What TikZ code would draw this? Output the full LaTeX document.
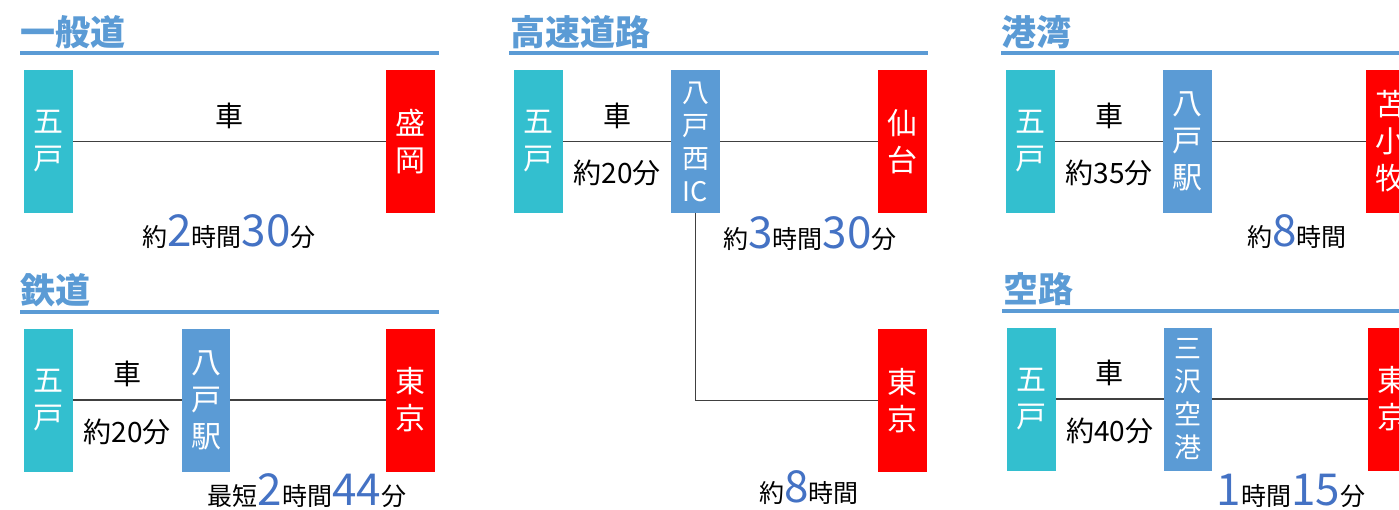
\documentclass[tikz,border=0pt]{standalone}
\usepackage{fontspec}
\setmainfont{Noto Sans CJK JP}
\usetikzlibrary{positioning}
\definecolor{homecol}{RGB}{51,191,207}
\definecolor{hubcol}{RGB}{91,155,213}
\definecolor{destcol}{RGB}{255,0,0}
\definecolor{headcol}{RGB}{91,155,213}
\definecolor{numcol}{RGB}{68,114,196}
\newcommand\jnum[1]{{\fontsize{44}{44}\selectfont\color{numcol}#1}}

\begin{document}
\begin{tikzpicture}[x=1pt,y=-1pt]
\tikzstyle{box}=[rectangle,minimum width=48.5pt,minimum height=143pt,inner sep=0pt,text=white,align=center,font=\fontsize{30}{37}\selectfont]
\tikzstyle{home}=[box,fill=homecol]
\tikzstyle{hub}=[box,fill=hubcol]
\tikzstyle{dest}=[box,fill=destcol]
\tikzstyle{tall}=[font=\fontsize{27}{33}\selectfont]
\tikzstyle{link}=[draw=black!75,line width=1.5pt]
\tikzstyle{heading}=[anchor=base west,inner sep=0pt,text=headcol,font=\fontsize{35}{35}\selectfont\bfseries]
\tikzstyle{headrule}=[draw=headcol,line width=3.5pt]
\tikzstyle{modelabel}=[inner sep=0pt,font=\fontsize{28}{28}\selectfont]
\tikzstyle{timelabel}=[anchor=base,inner sep=0pt,font=\fontsize{25}{25}\selectfont]
\useasboundingbox (0,0) rectangle (1399,509);
\clip (0,0) rectangle (1399,509);
% general road
\node[heading] (t1) at (20,45) {一般道};
\draw[headrule] (20,53) -- (439,53);
\node[home] (go1) at (48.5,141.5) {五\\戸};
\node[dest] (mori) at (410.5,141.5) {盛\\岡};
\draw[link] (go1) -- node[modelabel,above=12pt] {車} (mori);
\node[timelabel] (tm1) at (229,246) {約\jnum{2}時間\jnum{30}分};
% railway
\node[heading] (t2) at (20,303) {鉄道};
\draw[headrule] (20,312) -- (439,312);
\node[home] (go2) at (48.5,400) {五\\戸};
\node[hub] (hachi2) at (206,400) {八\\戸\\駅};
\node[dest] (tokyo2) at (410.5,400) {東\\京};
\draw[link] (go2) -- node[modelabel,above=12pt] {車} node[modelabel,below=18pt] {約20分} (hachi2);
\draw[link] (hachi2) -- (tokyo2);
\node[timelabel] (tm2) at (307,505) {最短\jnum{2}時間\jnum{44}分};
% expressway
\node[heading] (t3) at (510,45) {高速道路};
\draw[headrule] (509,53) -- (928,53);
\node[home] (go3) at (538.5,141.5) {五\\戸};
\node[hub,tall] (ic) at (695.5,141.5) {八\\戸\\西\\IC};
\node[dest] (sendai) at (902.5,141.5) {仙\\台};
\node[dest] (tokyo3) at (902.5,400.5) {東\\京};
\draw[link] (go3) -- node[modelabel,above=12pt] {車} node[modelabel,below=18pt] {約20分} (ic);
\draw[link] (ic) -- (sendai);
\draw[link] (ic) -- (ic |- tokyo3) -- (tokyo3);
\node[timelabel] (tm3) at (810,248) {約\jnum{3}時間\jnum{30}分};
\node[timelabel] (tm4) at (809,502) {約\jnum{8}時間};
% harbour
\node[heading] (t4) at (1001,45) {港湾};
\draw[headrule] (1001,53) -- (1420,53);
\node[home] (go4) at (1030.5,141.5) {五\\戸};
\node[hub] (hachi4) at (1187.5,141.5) {八\\戸\\駅};
\node[dest] (toma) at (1390.5,141.5) {苫\\小\\牧};
\draw[link] (go4) -- node[modelabel,above=12pt] {車} node[modelabel,below=18pt] {約35分} (hachi4);
\draw[link] (hachi4) -- (toma);
\node[timelabel] (tm5) at (1297,246) {約\jnum{8}時間};
% air
\node[heading] (t5) at (1003,302) {空路};
\draw[headrule] (1002,311) -- (1421,311);
\node[home] (go5) at (1031.5,399) {五\\戸};
\node[hub,tall] (misawa) at (1188,399) {三\\沢\\空\\港};
\node[dest] (tokyo5) at (1392.5,399) {東\\京};
\draw[link] (go5) -- node[modelabel,above=12pt] {車} node[modelabel,below=18pt] {約40分} (misawa);
\draw[link] (misawa) -- (tokyo5);
\node[timelabel] (tm6) at (1291,505) {\jnum{1}時間\jnum{15}分};
\end{tikzpicture}
\end{document}
